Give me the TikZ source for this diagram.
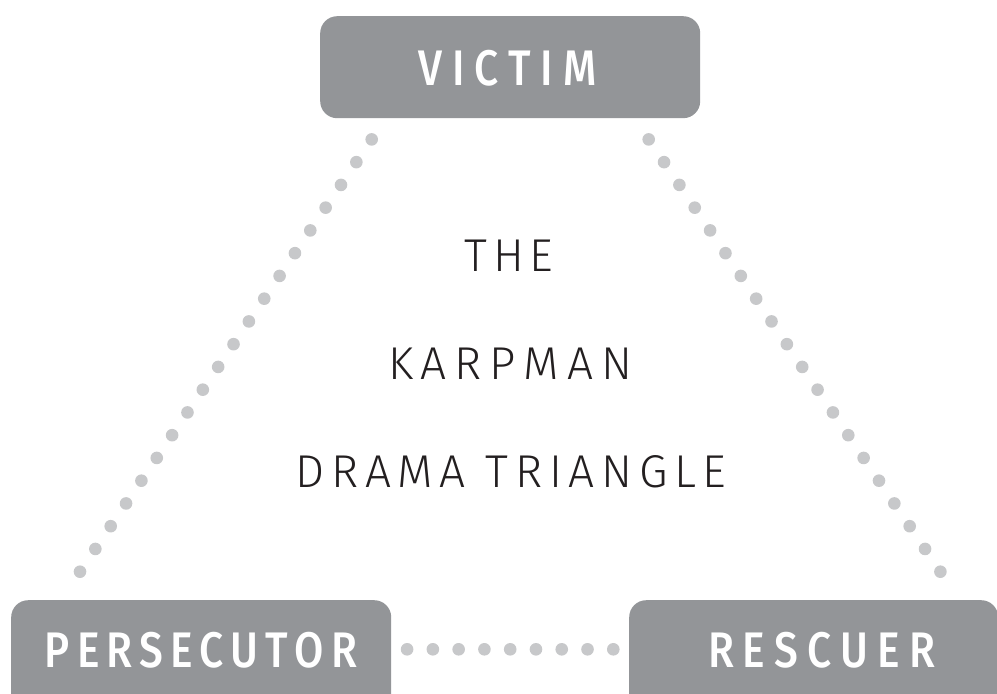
\documentclass[tikz,border=0pt]{standalone}
\usepackage{fontspec}
\newfontfamily\lightfont{Fira Sans Light}
\newfontfamily\medfont{Fira Sans Medium}[FakeStretch=0.85]
\usetikzlibrary{calc}
\definecolor{boxgray}{HTML}{939598}
\definecolor{dotgray}{HTML}{C7C8CA}
\definecolor{inkc}{HTML}{231F20}
\tikzset{
  rolebox/.style={fill=boxgray, draw=none, rounded corners=17pt, inner sep=0pt, anchor=north west},
  roletext/.style={text=white, font=\medfont\fontsize{50}{50}\selectfont, inner sep=0pt, anchor=base},
  titletext/.style={text=inkc, font=\lightfont\fontsize{46}{46}\selectfont, inner sep=0pt, anchor=base},
  dotfill/.style={fill=dotgray, draw=none},
}
\newcommand{\dotrow}[3]{% from, to, number of gaps
  \foreach \k in {0,...,#3} {
    \fill[dotfill] ($(#1)!{\k/#3}!(#2)$) circle (6.3pt);
  }%
}
\begin{document}
\begin{tikzpicture}[x=1pt,y=-1pt]
\clip (0,0) rectangle (997,694);
\fill[white] (0,0) rectangle (997,694);
% role boxes
\node[rolebox, minimum width=380pt, minimum height=102pt] (victim) at (320,16) {};
\node[rolebox, minimum width=380pt, minimum height=130pt] (persecutor) at (11,600) {};
\node[rolebox, minimum width=369pt, minimum height=130pt] (rescuer) at (629,600) {};
% role labels
\node[roletext] (victimlabel) at (507.5,85) {\makebox[178pt]{V\hfill I\hfill C\hfill T\hfill I\hfill M}};
\node[roletext] (perslabel) at (201,667) {\makebox[312pt]{P\hfill E\hfill R\hfill S\hfill E\hfill C\hfill U\hfill T\hfill O\hfill R}};
\node[roletext] (resclabel) at (821.5,667) {\makebox[227pt]{R\hfill E\hfill S\hfill C\hfill U\hfill E\hfill R}};
% title
\node[titletext] (title1) at (509,271.5) {\makebox[89pt]{T\hfill H\hfill E}};
\node[titletext] (title2) at (510,379) {\makebox[244pt]{K\hfill A\hfill R\hfill P\hfill M\hfill A\hfill N}};
\node[titletext] (title3) at (511,487.5) {\makebox[431pt]{D\hfill R\hfill A\hfill M\hfill A\hspace{0pt plus 3fill}T\hfill R\hfill I\hfill A\hfill N\hfill G\hfill L\hfill E}};
% connector end points
\coordinate (vl) at ($(victim.south west)+(51.7,21)$);
\coordinate (pl) at ($(persecutor.north west)+(69,-28.3)$);
\coordinate (vr) at ($(victim.south east)+(-51.7,21)$);
\coordinate (rr) at ($(rescuer.north east)+(-58,-28.3)$);
\coordinate (pb) at ($(persecutor.north east)+(15.7,49.3)$);
\coordinate (rb) at ($(rescuer.north west)+(-15.7,49.3)$);
% dotted connectors
\dotrow{vl}{pl}{19}
\dotrow{vr}{rr}{19}
\dotrow{pb}{rb}{8}
\end{tikzpicture}
\end{document}
